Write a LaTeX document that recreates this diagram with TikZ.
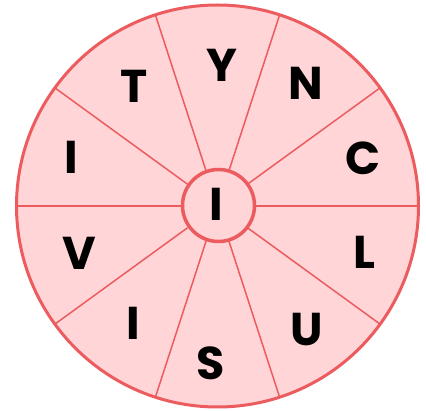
\documentclass[tikz,border=0pt]{standalone}
\usepackage{fontspec}
\usetikzlibrary{calc}
\newfontfamily\pop{Poppins}
\definecolor{wheelfill}{HTML}{FFD5D7}
\definecolor{wheeledge}{HTML}{EC5B5E}
\begin{document}
\begin{tikzpicture}[x=1pt,y=-1pt,
  letter/.style={font=\pop\bfseries\fontsize{46}{46}\selectfont, text=black, inner sep=0pt},
  spoke/.style={draw=wheeledge, line width=1.5pt}]
\useasboundingbox (0,0) rectangle (426,411);
\coordinate (c) at (217.5,206);
\fill[wheelfill] (c) circle (201);
\foreach \a in {0,36,...,324}{
  \draw[spoke] ($(c)+(\a:37)$) -- ($(c)+(\a:201)$);
}
\draw[wheeledge, line width=3pt] (c) circle (201);
\draw[wheeledge, line width=3.5pt, fill=wheelfill] (218.5,205.5) circle (36);
\node[letter] (y) at (222,65) {Y};
\node[letter] (t) at (134,86) {T};
\node[letter] (n) at (306,83) {N};
\node[letter] (cc) at (363,158) {C};
\node[letter] (i1) at (71,157) {I};
\node[letter] (v) at (79,253) {V};
\node[letter] (l) at (364,252) {L};
\node[letter] (i2) at (133,323) {I};
\node[letter] (s) at (211,363) {S};
\node[letter] (u) at (307,330) {U};
\node[letter] (i0) at (216,204) {I};
\end{tikzpicture}
\end{document}
